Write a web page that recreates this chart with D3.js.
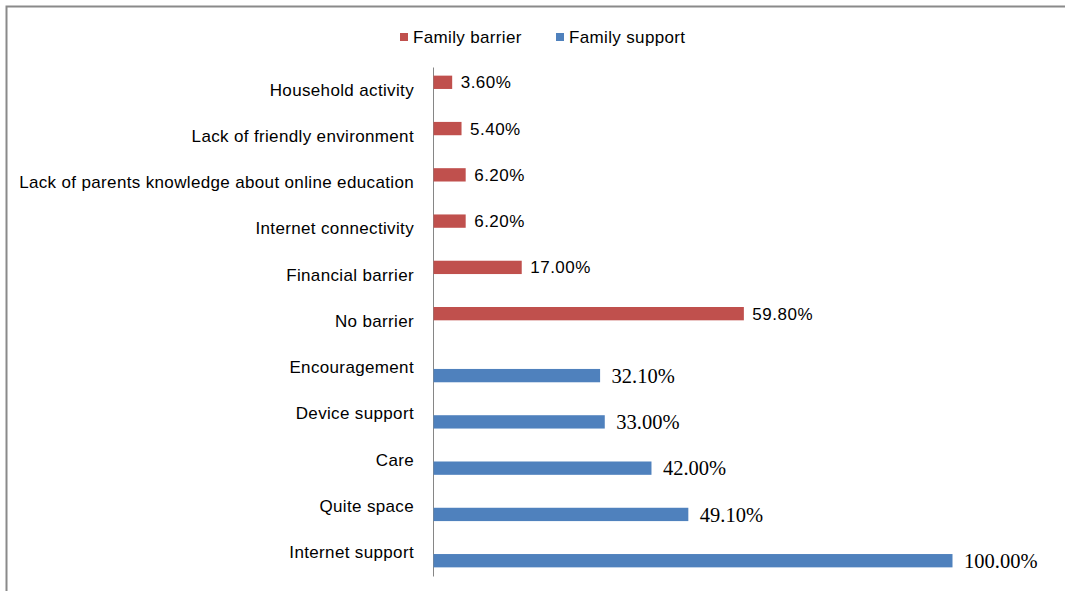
<!DOCTYPE html>
<html>
<head>
<meta charset="utf-8">
<script src="https://cdn.jsdelivr.net/npm/d3@7"></script>
<style>
  body { margin: 0; background: #fff; }
  svg { display: block; }
</style>
</head>
<body>
<svg></svg>
<script>
// Categories top to bottom
const categories = ["Household activity", "Lack of friendly environment",
  "Lack of parents knowledge about online education", "Internet connectivity",
  "Financial barrier", "No barrier", "Encouragement", "Device support", "Care",
  "Quite space", "Internet support"];

// Series values (percent), null where a category has no bar
const barrierValues = [3.6, 5.4, 6.2, 6.2, 17.0, 59.8, null, null, null, null, null];
const supportValues = [null, null, null, null, null, null, 32.1, 33.0, 42.0, 49.1, 100.0];

const seriesNames = ["Family barrier", "Family support"];
const seriesColors = ["#C0504D", "#4F81BD"];

const W = 1065, H = 591;
const axisX = 433;
const sansFont = 'Liberation Sans, Arial, sans-serif';
const serifFont = 'Liberation Serif, Times New Roman, serif';

// rows for drawing
let rows = [];
categories.forEach((c, i) => {
  if (barrierValues[i] != null) rows.push({ cat: c, series: seriesNames[0], value: barrierValues[i] });
  if (supportValues[i] != null) rows.push({ cat: c, series: seriesNames[1], value: supportValues[i] });
});

const svg = d3.select('svg').
attr('width', W).
attr('height', H);

svg.append('rect').
attr('width', W).
attr('height', H).
attr('fill', '#fff');

// chart border (top + left only visible)
svg.append('path').
attr('d', `M6.5,${H}V6.5H${W}`).
attr('fill', 'none').
attr('stroke', '#8a8a8a').
attr('stroke-width', 2);

// scales
const y = d3.scaleBand().
domain(categories).
range([67, 576]).
padding(0);

const ySub = d3.scaleBand().
domain(seriesNames).
range([y.bandwidth() / 2 - 14.5, y.bandwidth() / 2 + 14.5]).
paddingInner(0.15);

const x = d3.scaleLinear().
domain([0, 100]).
range([axisX, 952]);

const color = d3.scaleOrdinal().domain(seriesNames).range(seriesColors);

// category axis
const yAxis = d3.axisLeft(y).
tickSize(0).
tickSizeOuter(0).
tickPadding(19);

const axisG = svg.append('g').
attr('transform', `translate(${axisX},0)`).
call(yAxis);

axisG.select('.domain').
attr('stroke', '#868686').
attr('stroke-width', 1);

axisG.selectAll('text').
attr('font-family', sansFont).
attr('font-size', 17).
attr('letter-spacing', 0.35).
attr('fill', '#000');

// bars
svg.append('g').
selectAll('rect').
data(rows).
enter().append('rect').
attr('x', x(0) + 0.5).
attr('y', d => y(d.cat) + ySub(d.series)).
attr('width', d => x(d.value) - x(0)).
attr('height', ySub.bandwidth()).
attr('fill', d => color(d.series));

// data labels
svg.append('g').
selectAll('text').
data(rows).
enter().append('text').
attr('x', d => x(d.value) + (d.series === seriesNames[0] ? 9 : 12)).
attr('y', d => y(d.cat) + ySub(d.series) + ySub.bandwidth() / 2).
attr('dy', '0.35em').
attr('font-family', d => d.series === seriesNames[0] ? sansFont : serifFont).
attr('font-size', d => d.series === seriesNames[0] ? 17 : 20.5).
attr('letter-spacing', d => d.series === seriesNames[0] ? 0.5 : 0).
attr('fill', '#000').
text(d => d.value.toFixed(2) + '%');

// legend
const legendX = [400, 556];
const legend = svg.append('g').
selectAll('g').
data(seriesNames).
enter().append('g').
attr('transform', (d, i) => `translate(${legendX[i]}, 33)`);

legend.append('rect').
attr('width', 8).
attr('height', 8).
attr('fill', d => color(d));

legend.append('text').
attr('x', 13).
attr('y', 4).
attr('dy', '0.35em').
attr('font-family', sansFont).
attr('font-size', 17).
attr('letter-spacing', 0.35).
attr('fill', '#000').
text(d => d);
</script>
</body>
</html>
